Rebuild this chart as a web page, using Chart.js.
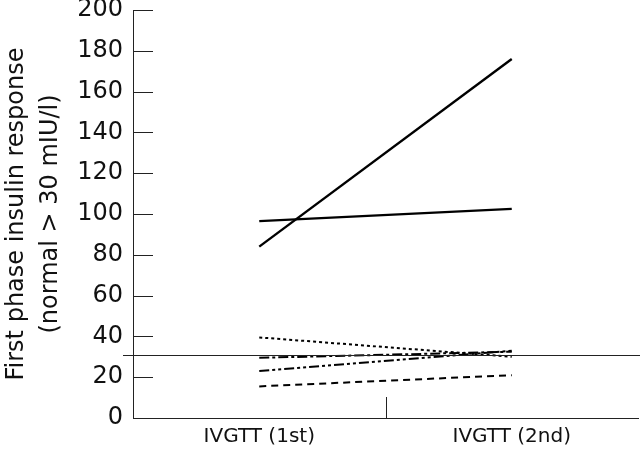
<!DOCTYPE html>
<html>
<head>
<meta charset="utf-8">
<script src="https://cdn.jsdelivr.net/npm/chart.js@4"></script>
<style>
  html, body { margin: 0; padding: 0; background: #fff; }
  #wrap { width: 640px; height: 453px; }
</style>
</head>
<body>
<div id="wrap"><canvas id="mycanvas" width="640" height="453"></canvas></div>
<script>
var categories = ['IVGTT (1st)', 'IVGTT (2nd)'];
var patientA = [84, 176];
var patientB = [96.5, 102.5];
var patientC = [39.5, 30];
var patientD = [29.5, 32.5];
var patientE = [23, 33];
var patientF = [15.5, 21];
var normalLevel = 31;
var yMin = 0, yMax = 200, yStep = 20;

var fontFamily = "'DejaVu Sans', sans-serif";

function series(data, dash, width) {
	return {
		data: data,
		borderColor: '#000',
		borderWidth: width,
		borderDash: dash,
		pointRadius: 0,
		fill: false,
		tension: 0
	};
}

// inner ticks on both axes plus the horizontal "normal" line
var axisDecor = {
	id: 'axisDecor',
	afterDatasetsDraw: function(chart) {
		var ctx = chart.ctx;
		var x = chart.scales.x, y = chart.scales.y;
		var area = chart.chartArea;
		ctx.save();
		ctx.strokeStyle = '#222';
		ctx.lineWidth = 1;
		ctx.beginPath();
		for (var v = yMin; v <= yMax; v += yStep) {
			var py = Math.round(y.getPixelForValue(v)) + 0.5;
			ctx.moveTo(area.left, py);
			ctx.lineTo(area.left + 20, py);
		}
		var mid = Math.round((x.getPixelForValue(0) + x.getPixelForValue(1)) / 2) + 0.5;
		ctx.moveTo(mid, area.bottom);
		ctx.lineTo(mid, area.bottom - 21);
		var pn = Math.round(y.getPixelForValue(normalLevel)) + 0.5;
		ctx.moveTo(area.left - 10, pn);
		ctx.lineTo(chart.width, pn);
		ctx.stroke();
		ctx.restore();
	}
};

var ctx = document.getElementById('mycanvas');
new Chart(ctx, {
	type: 'line',
	data: {
		labels: categories,
		datasets: [
			series(patientA, [], 2.4),
			series(patientB, [], 2.4),
			series(patientC, [3, 3], 2),
			series(patientD, [10, 3, 3, 3], 2),
			series(patientE, [10, 3, 3, 3, 3, 3], 2),
			series(patientF, [7, 5], 2)
		]
	},
	options: {
		responsive: false,
		animation: false,
		layout: { padding: { top: 10, right: 2, left: 0, bottom: 0 } },
		plugins: { legend: { display: false }, tooltip: { enabled: false } },
		scales: {
			x: {
				offset: true,
				grid: { display: false, drawTicks: false },
				border: { display: true, color: '#222', width: 1 },
				ticks: { color: '#111', font: { family: fontFamily, size: 20 }, padding: 7 },
				afterFit: function(s) { s.height = 35; s.paddingLeft = 0; s.paddingRight = 0; }
			},
			y: {
				min: yMin,
				max: yMax,
				grid: { display: false, drawTicks: false },
				border: { display: true, color: '#222', width: 1 },
				ticks: { stepSize: yStep, color: '#111', font: { family: fontFamily, size: 24 }, padding: 10 },
				title: {
					display: true,
					text: ['First phase insulin response', '(normal > 30 mIU/l)'],
					color: '#111',
					font: { family: fontFamily, size: 24, lineHeight: 1.4 },
					padding: { top: 0, bottom: 0 }
				},
				afterFit: function(s) { s.width = 133; s.paddingTop = 0; s.paddingBottom = 0; }
			}
		}
	},
	plugins: [axisDecor]
});
</script>
</body>
</html>
